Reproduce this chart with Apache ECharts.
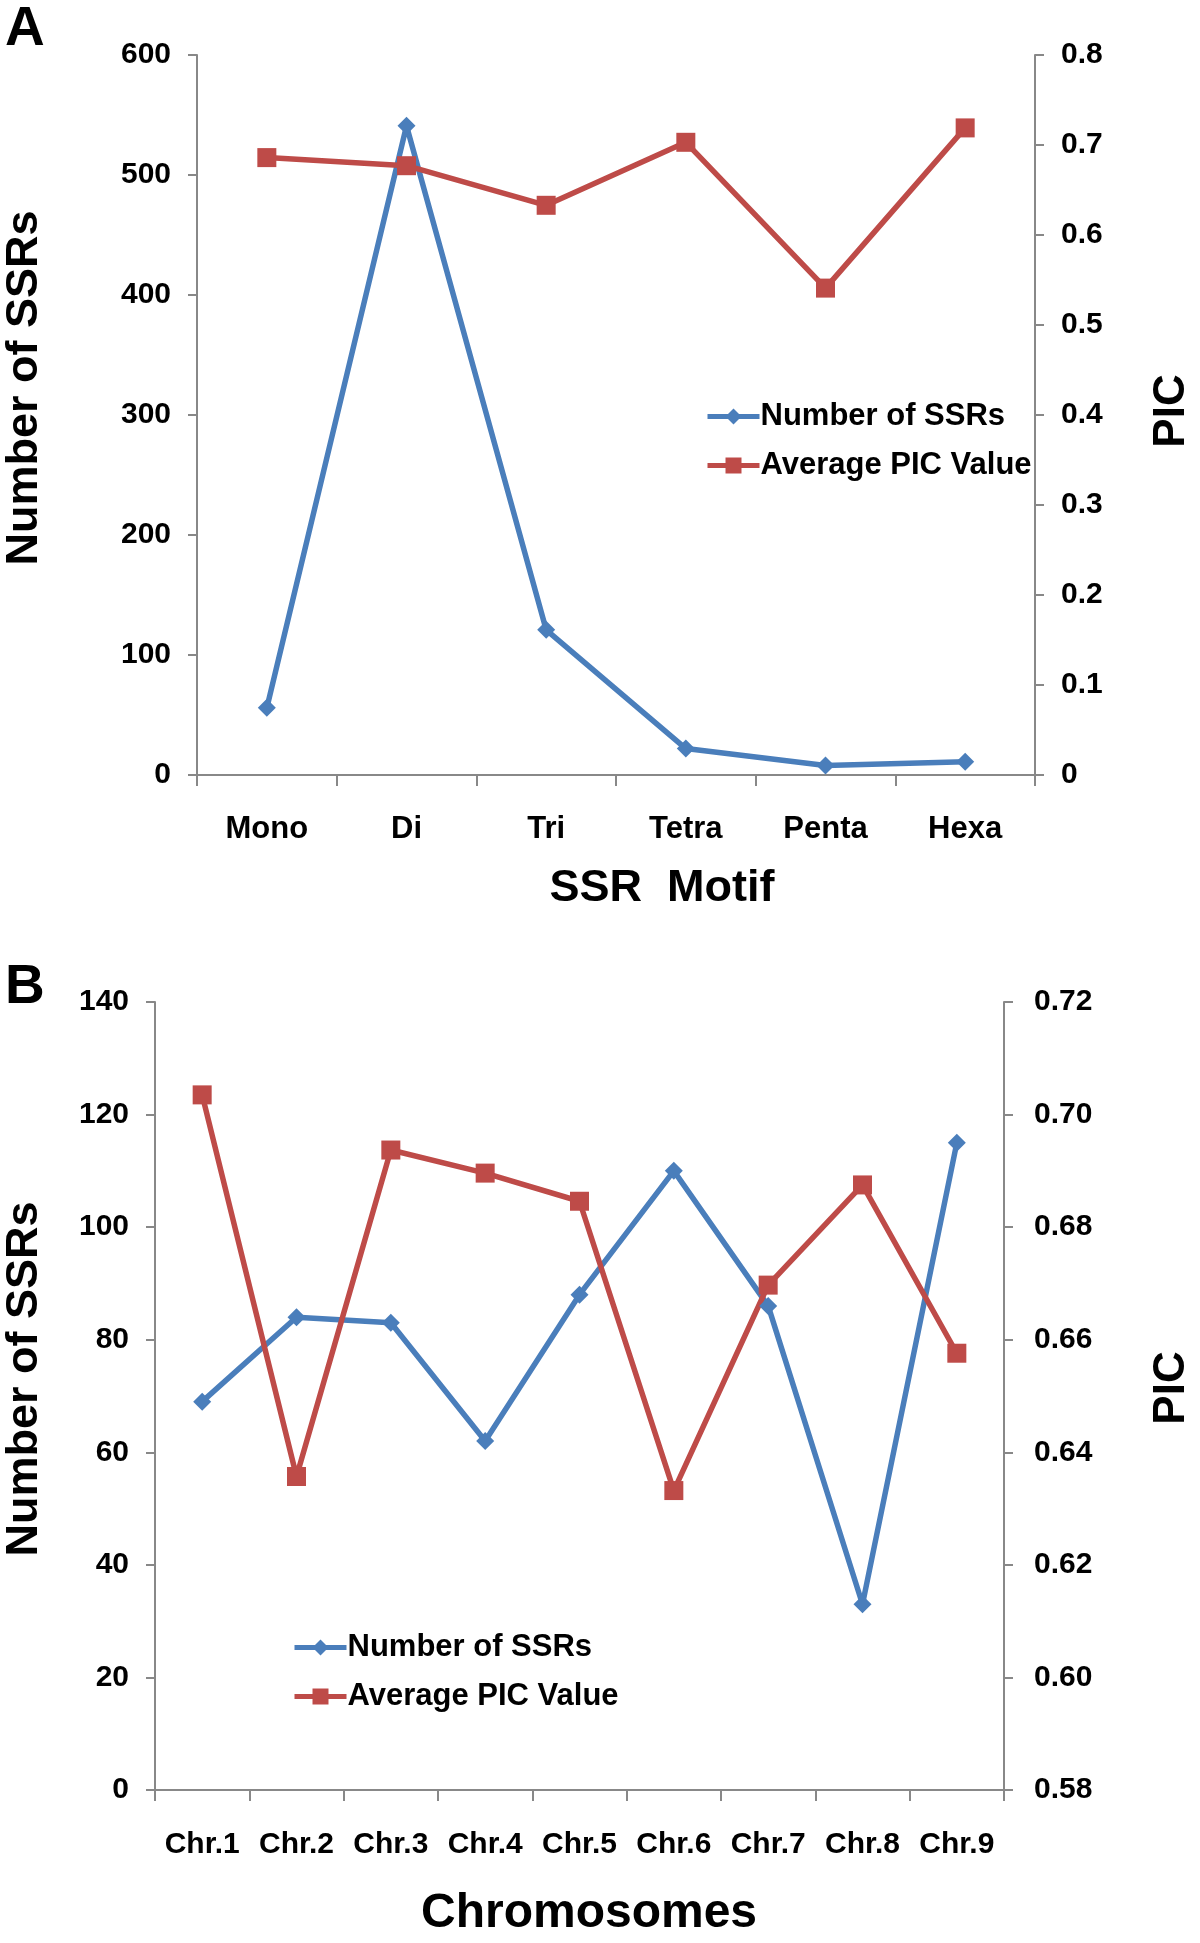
<!DOCTYPE html>
<html><head><meta charset="utf-8">
<script src="https://cdn.jsdelivr.net/npm/echarts@6/dist/echarts.min.js"></script>
<style>html,body{margin:0;padding:0;background:#fff}#c{width:1200px;height:1943px}</style>
</head><body><div id="c"></div>
<script>
const motifs = ['Mono','Di','Tri','Tetra','Penta','Hexa'];
const motifSSR = [56, 541, 121, 22, 8, 11];
const motifPIC = [0.686, 0.677, 0.633, 0.703, 0.541, 0.719];

const chromosomes = ['Chr.1','Chr.2','Chr.3','Chr.4','Chr.5','Chr.6','Chr.7','Chr.8','Chr.9'];
const chrSSR = [69, 84, 83, 62, 88, 110, 86, 33, 115];
const chrPIC = [0.7035, 0.6357, 0.6937, 0.6896, 0.6846, 0.6332, 0.6697, 0.6875, 0.6576];

const FONT = '"Liberation Sans", Arial, sans-serif';
const BLUE = '#4A7EBB', RED = '#BE4B48', AX = '#888888';
const lbl = (m, s) => ({fontFamily: FONT, fontWeight: 'bold', fontSize: s || 30, color: '#000', margin: m});
const axLine = {show: true, lineStyle: {color: AX, width: 2}};
const tick = (len) => ({show: true, length: len, lineStyle: {color: AX, width: 2}});
const legendText = {fontFamily: FONT, fontWeight: 'bold', fontSize: 31, color: '#000', padding: [0,0,0,-4]};

const chart = echarts.init(document.getElementById('c'), null, {renderer: 'canvas'});
chart.setOption({
  animation: false,
  backgroundColor: '#fff',
  grid: [
    {left: 197, right: 165, top: 55, height: 720},
    {left: 155, right: 196, top: 1002, height: 788}
  ],
  xAxis: [
    {type: 'category', gridIndex: 0, data: motifs, boundaryGap: true,
     axisLine: axLine, axisTick: Object.assign(tick(11), {interval: 0}),
     axisLabel: Object.assign(lbl(39, 31), {interval: 0})},
    {type: 'category', gridIndex: 1, data: chromosomes, boundaryGap: true,
     axisLine: axLine, axisTick: Object.assign(tick(11), {interval: 0}),
     axisLabel: Object.assign(lbl(40, 30), {interval: 0})}
  ],
  yAxis: [
    {type: 'value', gridIndex: 0, min: 0, max: 600, interval: 100, position: 'left',
     axisLine: axLine, axisTick: tick(9), splitLine: {show: false}, axisLabel: lbl(26)},
    {type: 'value', gridIndex: 0, min: 0, max: 0.8, interval: 0.1, position: 'right',
     axisLine: axLine, axisTick: tick(9), splitLine: {show: false},
     axisLabel: Object.assign(lbl(26), {formatter: v => v === 0 ? '0' : v.toFixed(1)})},
    {type: 'value', gridIndex: 1, min: 0, max: 140, interval: 20, position: 'left',
     axisLine: axLine, axisTick: tick(9), splitLine: {show: false}, axisLabel: lbl(26)},
    {type: 'value', gridIndex: 1, min: 0.58, max: 0.72, interval: 0.02, position: 'right',
     axisLine: axLine, axisTick: tick(9), splitLine: {show: false},
     axisLabel: Object.assign(lbl(30), {formatter: v => v.toFixed(2)})}
  ],
  legend: [
    {orient: 'vertical', left: 700, top: 396, itemWidth: 52, itemHeight: 20, itemGap: 18,
     data: ['Number of SSRs', 'Average PIC Value'], lineStyle: {width: 5}, textStyle: legendText},
    {orient: 'vertical', left: 287, top: 1627, itemWidth: 52, itemHeight: 20, itemGap: 18,
     data: ['Number of SSRs', 'Average PIC Value'], lineStyle: {width: 5}, textStyle: legendText}
  ],
  series: [
    {name: 'Number of SSRs', type: 'line', xAxisIndex: 0, yAxisIndex: 0, data: motifSSR,
     symbol: 'diamond', symbolSize: 18, lineStyle: {color: BLUE, width: 5.5}, itemStyle: {color: BLUE}},
    {name: 'Average PIC Value', type: 'line', xAxisIndex: 0, yAxisIndex: 1, data: motifPIC,
     symbol: 'rect', symbolSize: 19, lineStyle: {color: RED, width: 5.5}, itemStyle: {color: RED}},
    {name: 'Number of SSRs', type: 'line', xAxisIndex: 1, yAxisIndex: 2, data: chrSSR,
     symbol: 'diamond', symbolSize: 18, lineStyle: {color: BLUE, width: 5.5}, itemStyle: {color: BLUE}},
    {name: 'Average PIC Value', type: 'line', xAxisIndex: 1, yAxisIndex: 3, data: chrPIC,
     symbol: 'rect', symbolSize: 19, lineStyle: {color: RED, width: 5.5}, itemStyle: {color: RED}}
  ],
  graphic: [
    {type: 'text', left: 5, top: 2, style: {text: 'A', font: 'bold 55px ' + FONT, fill: '#000'}},
    {type: 'text', left: 5, top: 960, style: {text: 'B', font: 'bold 55px ' + FONT, fill: '#000'}},
    {type: 'text', x: 25, y: 388, rotation: Math.PI / 2,
     style: {text: 'Number of SSRs', font: 'bold 45px ' + FONT, fill: '#000', textAlign: 'center', textVerticalAlign: 'middle'}},
    {type: 'text', x: 1172, y: 411, rotation: Math.PI / 2,
     style: {text: 'PIC', font: 'bold 44px ' + FONT, fill: '#000', textAlign: 'center', textVerticalAlign: 'middle'}},
    {type: 'text', x: 662, y: 889,
     style: {text: 'SSR  Motif', font: 'bold 45px ' + FONT, fill: '#000', textAlign: 'center', textVerticalAlign: 'middle'}},
    {type: 'text', x: 25, y: 1379, rotation: Math.PI / 2,
     style: {text: 'Number of SSRs', font: 'bold 45px ' + FONT, fill: '#000', textAlign: 'center', textVerticalAlign: 'middle'}},
    {type: 'text', x: 1172, y: 1388, rotation: Math.PI / 2,
     style: {text: 'PIC', font: 'bold 44px ' + FONT, fill: '#000', textAlign: 'center', textVerticalAlign: 'middle'}},
    {type: 'text', x: 589, y: 1914,
     style: {text: 'Chromosomes', font: 'bold 48px ' + FONT, fill: '#000', textAlign: 'center', textVerticalAlign: 'middle'}}
  ]
});
</script></body></html>
